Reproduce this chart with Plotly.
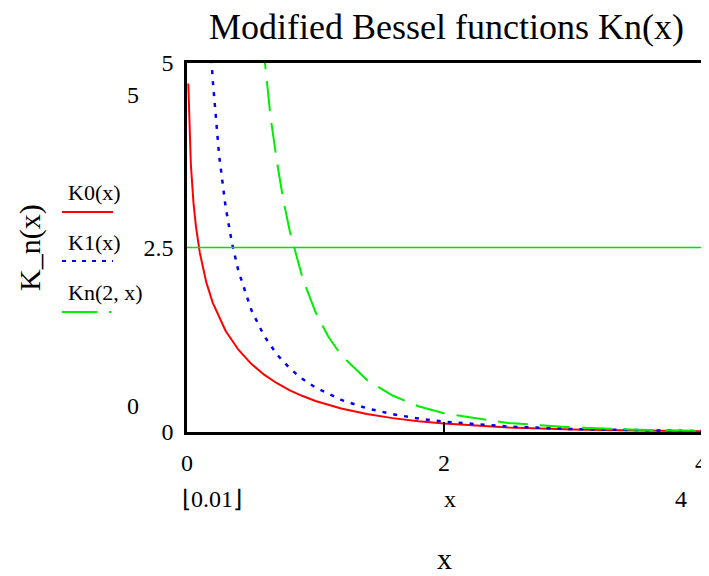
import plotly.graph_objects as go

x0 = [0.01, 0.02, 0.03, 0.05, 0.07, 0.1, 0.15, 0.2, 0.3, 0.4, 0.5, 0.6, 0.7, 0.8, 0.9, 1.0,
      1.2, 1.4, 1.6, 1.8, 2.0, 2.5, 3.0, 3.5, 4.0]
k0 = [4.721, 4.028, 3.624, 3.114, 2.780, 2.427, 2.030, 1.753, 1.372, 1.115, 0.924, 0.777,
      0.661, 0.565, 0.487, 0.421, 0.318, 0.244, 0.188, 0.146, 0.114, 0.062, 0.035, 0.020, 0.011]

x1 = [0.18, 0.2, 0.25, 0.3, 0.35, 0.4, 0.5, 0.6, 0.7, 0.8, 0.9, 1.0, 1.2, 1.4, 1.6, 1.8,
      2.0, 2.5, 3.0, 3.5, 4.0]
k1 = [5.35, 4.776, 3.747, 3.056, 2.559, 2.184, 1.656, 1.303, 1.050, 0.862, 0.717, 0.602,
      0.435, 0.321, 0.241, 0.183, 0.140, 0.074, 0.040, 0.022, 0.0125]

x2 = [0.59, 0.6, 0.65, 0.7, 0.75, 0.8, 0.9, 1.0, 1.1, 1.2, 1.4, 1.6, 1.8, 2.0, 2.5, 3.0,
      3.5, 4.0]
k2 = [5.32, 5.120, 4.27, 3.661, 3.14, 2.720, 2.081, 1.625, 1.29, 1.043, 0.704, 0.494,
      0.349, 0.254, 0.122, 0.062, 0.032, 0.017]

x_ticks = [0, 2, 4]
x_tick_text = ["0", "2", "4"]
y_ticks = [0, 2.5, 5]
y_tick_text = ["0", "2.5", "5"]
marker_y = 2.5

FONT = "Liberation Serif, Times New Roman, serif"
OFF = 8  # default page body margin

fig = go.Figure()
fig.add_trace(go.Scatter(x=x0, y=k0, mode="lines", line=dict(color="#ff0000", width=2),
                         showlegend=False))
fig.add_trace(go.Scatter(x=x1, y=k1, mode="lines",
                         line=dict(color="#0000ff", width=2.5, dash="4px,7px"),
                         showlegend=False))
fig.add_trace(go.Scatter(x=x2, y=k2, mode="lines",
                         line=dict(color="#00ee00", width=2, dash="30px,12px"),
                         showlegend=False))

# marker line at y=2.5
fig.add_shape(type="line", xref="paper", x0=0, x1=1, yref="y", y0=marker_y, y1=marker_y,
              line=dict(color="#00e000", width=1.5), layer="above")

def px(p):
    return (p - 187) / 514

def py(p):
    return (432 - p) / 369

def ann(text, x, y, size, **kw):
    d = dict(text=text, x=px(x), y=py(y), xref="paper", yref="paper", showarrow=False,
             xanchor="center", yanchor="middle",
             font=dict(size=size, family=FONT, color="black"))
    d.update(kw)
    return d

annos = [
    ann("Modified Bessel functions Kn(x)", 446, 27, 36),
    ann("K_n(x)", 30, 248, 30, textangle=-90),
    ann("x", 444, 558, 30),
    ann("5", 133, 95, 24),
    ann("0", 133, 406, 24),
    ann("\u230a0.01\u230b", 212, 499, 24),
    ann("x", 450, 499, 24),
    ann("4", 681, 499, 24),
]
# legend
leg = [("K0(x)", 192, 212, "#ff0000", "solid"),
       ("K1(x)", 242, 261, "#0000ff", "4px,6px"),
       ("Kn(2, x)", 292, 312, "#00ee00", "35px,12px,2px,20px")]
for name, ty, ly, col, dash in leg:
    annos.append(ann(name, 66, ty, 22, xanchor="left"))
    fig.add_shape(type="line", xref="paper", yref="paper", x0=px(62), x1=px(113),
                  y0=py(ly), y1=py(ly), line=dict(color=col, width=2, dash=dash))

fig.update_layout(
    width=709 - OFF, height=576 - OFF,
    margin=dict(l=187 - OFF, r=8, t=63 - OFF, b=144, autoexpand=False),
    paper_bgcolor="white", plot_bgcolor="white",
    showlegend=False,
    font=dict(family=FONT, size=24, color="black"),
    annotations=annos,
    xaxis=dict(range=[0, 4], tickvals=x_ticks, ticktext=x_tick_text, ticks="inside",
               ticklen=10, tickwidth=2, tickcolor="black", showline=True, linecolor="black",
               linewidth=2.5, mirror=True, showgrid=False, zeroline=False,
               ticklabelstandoff=7, tickfont=dict(size=24, family=FONT)),
    yaxis=dict(range=[0, 5], tickvals=y_ticks, ticktext=y_tick_text, ticks="",
               showline=True, linecolor="black", linewidth=2.5, mirror=True,
               ticklabelstandoff=6,
               showgrid=False, zeroline=False, tickfont=dict(size=24, family=FONT)),
)

fig.write_html("out.html",
               post_script="document.documentElement.style.overflow='hidden';")
